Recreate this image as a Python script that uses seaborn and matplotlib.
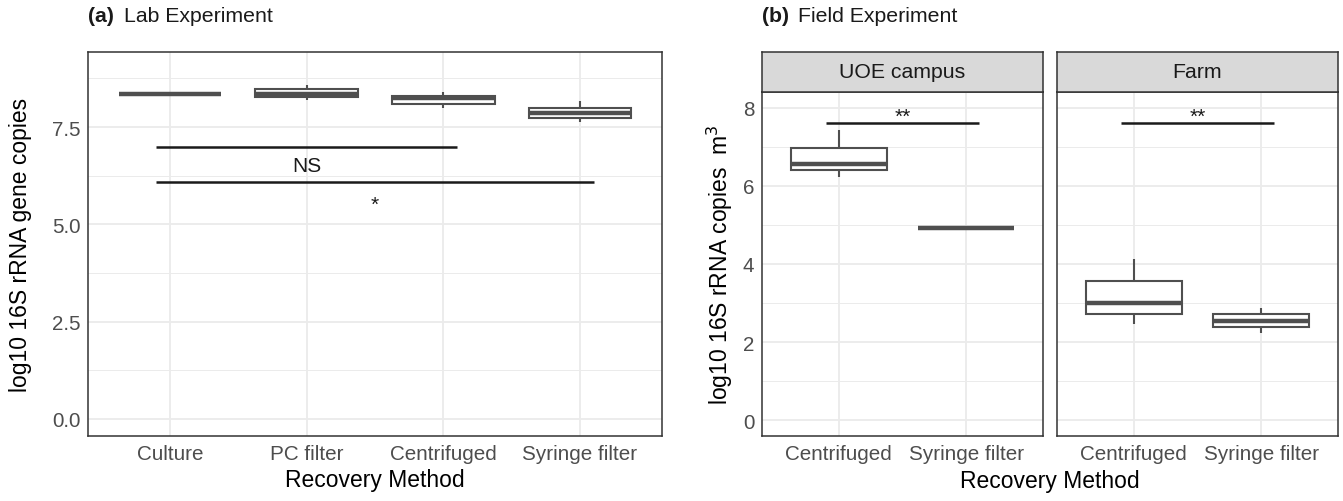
import numpy as np
import pandas as pd
import matplotlib.pyplot as plt
import seaborn as sns
from matplotlib.ticker import MultipleLocator

# (a) lab experiment, box summaries
lab_methods = ['Culture', 'PC filter', 'Centrifuged', 'Syringe filter']
lab_min = [8.35, 8.19, 7.98, 7.62]
lab_q1 = [8.35, 8.27, 8.10, 7.73]
lab_med = [8.35, 8.34, 8.24, 7.86]
lab_q3 = [8.35, 8.47, 8.30, 8.00]
lab_max = [8.35, 8.59, 8.39, 8.17]

# significance bars for (a): 0-based category positions
lab_sig_start = [-0.1, -0.1]
lab_sig_end = [2.1, 3.1]
lab_sig_y = [7.0, 6.1]
lab_sig_text = ['NS', '*']
lab_sig_text_y = [6.38, 5.37]

# (b) field experiment
field_sites = ['UOE campus', 'Farm']
field_methods = ['Centrifuged', 'Syringe filter']
field_min = {'UOE campus': [6.23, 4.93], 'Farm': [2.46, 2.23]}
field_q1 = {'UOE campus': [6.40, 4.93], 'Farm': [2.72, 2.38]}
field_med = {'UOE campus': [6.57, 4.93], 'Farm': [2.99, 2.55]}
field_q3 = {'UOE campus': [6.98, 4.93], 'Farm': [3.57, 2.71]}
field_max = {'UOE campus': [7.43, 4.93], 'Farm': [4.13, 2.87]}

field_sig_start = -0.1
field_sig_end = 1.1
field_sig_y = 7.6
field_sig_text = '**'
field_sig_text_y = 7.64


def five_rows(methods, lo, a, md, b, hi):
    rows = []
    for m, v1, v2, v3, v4, v5 in zip(methods, lo, a, md, b, hi):
        for v in (v1, v2, v3, v4, v5):
            rows.append({'method': m, 'value': v})
    return pd.DataFrame(rows)


lab_df = five_rows(lab_methods, lab_min, lab_q1, lab_med, lab_q3, lab_max)

sns.set_theme(style='white')
plt.rcParams['font.family'] = ['Liberation Sans', 'DejaVu Sans']

W, H = 1343, 502
fig = plt.figure(figsize=(W / 100, H / 100), dpi=100)


def px_axes(x0, y0, x1, y1):
    return fig.add_axes([x0 / W, 1 - y1 / H, (x1 - x0) / W, (y1 - y0) / H])


border = '#333333'
grid_col = '#EBEBEB'
box_col = '#4F4F4F'
tick_size = 14.9
title_size = 16.5

box_kws = dict(width=0.75, color='white', linecolor=box_col, linewidth=1.5,
               showcaps=False, fliersize=0, saturation=1,
               medianprops=dict(linewidth=3.2, color=box_col))


def style_panel(ax, ymin, ymax, major, minor):
    ax.set_ylim(ymin, ymax)
    ax.yaxis.set_major_locator(MultipleLocator(major))
    ax.yaxis.set_minor_locator(MultipleLocator(minor))
    ax.set_axisbelow(True)
    ax.grid(which='major', color=grid_col, linewidth=1.3)
    ax.grid(which='minor', axis='y', color=grid_col, linewidth=0.7)
    ax.xaxis.grid(True, which='major', color=grid_col, linewidth=1.3)
    for s in ax.spines.values():
        s.set_visible(True)
        s.set_color(border)
        s.set_linewidth(1.1)
    ax.tick_params(which='major', direction='out', length=3, width=1,
                   color=border, labelcolor='#4D4D4D', labelsize=tick_size, pad=2.5)
    ax.tick_params(which='minor', length=0)
    ax.set_xlabel('')
    ax.set_ylabel('')


# ---- panel (a)
ax_a = px_axes(88, 53, 662, 437)
sns.boxplot(data=lab_df, x='method', y='value', order=lab_methods, ax=ax_a, **box_kws)
style_panel(ax_a, -0.44, 9.43, 2.5, 1.25)
ax_a.set_xlim(-0.6, len(lab_methods) - 0.4)
ax_a.yaxis.set_major_formatter(plt.FuncFormatter(lambda v, p: f'{v:.1f}'))
for xs, xe, y, t, ty in zip(lab_sig_start, lab_sig_end, lab_sig_y, lab_sig_text, lab_sig_text_y):
    ax_a.plot([xs, xe], [y, y], color='#1A1A1A', linewidth=1.8, solid_capstyle='butt')
    ax_a.text((xs + xe) / 2, ty, t, ha='center', va='baseline', fontsize=15, color='#1A1A1A')
ax_a.set_xlabel('Recovery Method', fontsize=title_size, color='black', labelpad=4)
ax_a.set_ylabel('log10 16S rRNA gene copies', fontsize=title_size, color='black', labelpad=14)

# ---- panel (b)
field_axes = [px_axes(762, 93, 1043, 437), px_axes(1057, 93, 1338, 437)]
strip_axes = [px_axes(762, 53, 1043, 93), px_axes(1057, 53, 1338, 93)]
for i, site in enumerate(field_sites):
    ax = field_axes[i]
    df = five_rows(field_methods, field_min[site], field_q1[site], field_med[site],
                   field_q3[site], field_max[site])
    sns.boxplot(data=df, x='method', y='value', order=field_methods, ax=ax, **box_kws)
    style_panel(ax, -0.4, 8.4, 2, 1)
    ax.set_xlim(-0.6, len(field_methods) - 0.4)
    ax.plot([field_sig_start, field_sig_end], [field_sig_y, field_sig_y],
            color='#1A1A1A', linewidth=1.8, solid_capstyle='butt')
    ax.text((field_sig_start + field_sig_end) / 2, field_sig_text_y, field_sig_text,
            ha='center', va='baseline', fontsize=15, color='#1A1A1A')
    if i > 0:
        ax.tick_params(axis='y', length=0, labelleft=False)

    sax = strip_axes[i]
    sax.set_facecolor('#D9D9D9')
    sax.set_xticks([])
    sax.set_yticks([])
    for s in sax.spines.values():
        s.set_visible(True)
        s.set_color(border)
        s.set_linewidth(1.1)
    sax.text(0.5, 0.5, site, ha='center', va='center', fontsize=15.3,
             color='#1A1A1A', transform=sax.transAxes)

field_axes[0].set_ylabel('log10 16S rRNA copies  m$^3$', fontsize=title_size,
                         color='black', labelpad=6)
fig.text(1050 / W, 1 - 482 / H, 'Recovery Method', ha='center', va='center',
         fontsize=title_size, color='black')

# panel titles
fig.text(88 / W, 1 - 17 / H, '(a)', fontweight='bold', fontsize=15.3,
         ha='left', va='center', color='#1A1A1A')
fig.text(124 / W, 1 - 17 / H, 'Lab Experiment', fontsize=15.3,
         ha='left', va='center', color='#1A1A1A')
fig.text(762 / W, 1 - 17 / H, '(b)', fontweight='bold', fontsize=15.3,
         ha='left', va='center', color='#1A1A1A')
fig.text(798 / W, 1 - 17 / H, 'Field Experiment', fontsize=15.3,
         ha='left', va='center', color='#1A1A1A')

fig.savefig('out.png', dpi=100, facecolor='white')
